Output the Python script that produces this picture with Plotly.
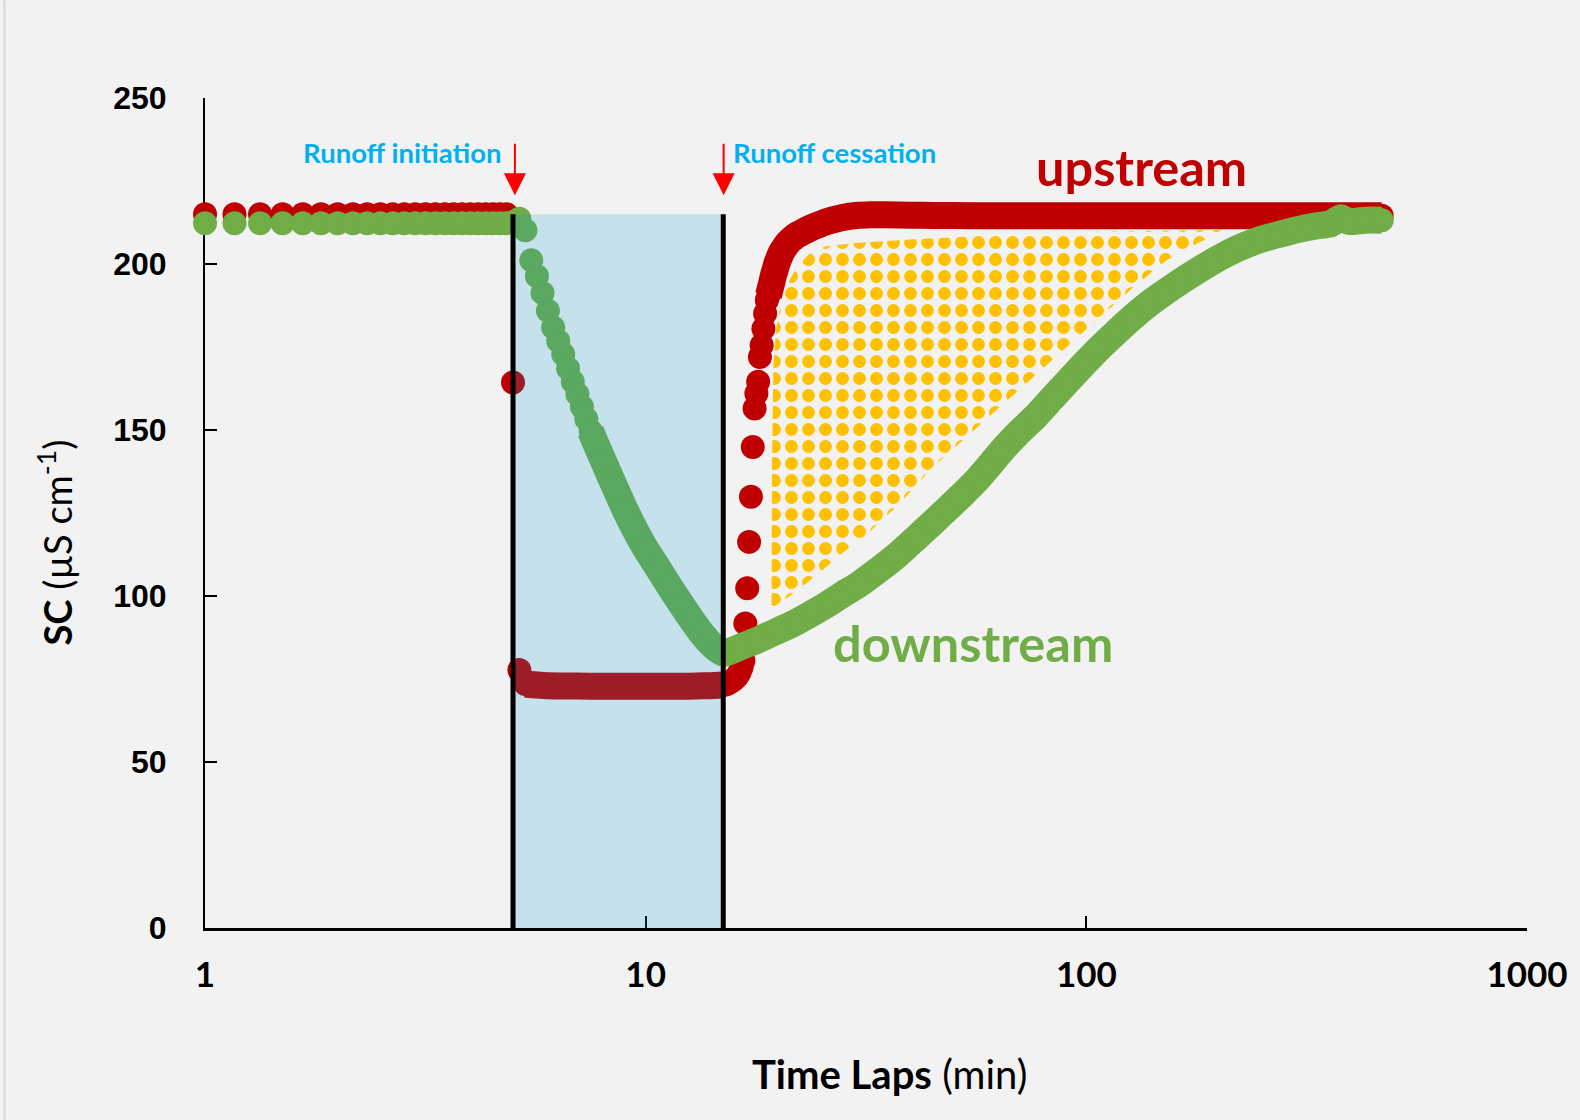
import numpy as np
import plotly.graph_objects as go

# Upstream logger: elapsed time (s) and specific conductance (µS/cm)
up_sec = [60, 70, 80, 90, 100, 110, 120, 130, 140, 150, 160, 170,
          180, 190, 200, 210, 220, 230, 240, 250, 260, 270, 280, 290,
          300, 310,
          320, 340, 360, 420, 480, 540, 600, 660, 720, 780, 840, 900,
          910, 920, 930, 940, 950, 960, 970, 980, 990, 1000,
          1010, 1020, 1030, 1040, 1050, 1060, 1070, 1080, 1090, 1100,
          1110, 1120, 1130, 1140, 1150, 1160, 1170, 1180, 1190, 1200,
          1220, 1240, 1260, 1290, 1320, 1350, 1380, 1440, 1500, 1560,
          1620, 1680, 1800, 1950, 2100, 2400, 2700, 3000, 3600, 4200,
          4800, 6000, 7200, 9000, 10800, 14400, 18000, 21600, 25200, 28080]
up_sc = [215.0, 215.0, 215.0, 215.0, 215.0, 215.0, 215.0, 215.0, 215.0, 215.0, 215.0, 215.0,
         215.0, 215.0, 215.0, 215.0, 215.0, 215.0, 215.0, 215.0, 215.0, 215.0, 215.0, 215.0,
         164.3, 77.7,
         73.5, 73.2, 73.0, 72.9, 72.8, 72.8, 72.8, 72.8, 72.8, 72.9, 73.0, 73.2,
         73.4, 73.6, 74.0, 74.3, 74.8, 75.3, 76.0, 77.0, 78.5, 80.5,
         91.7, 102.3, 116.3, 129.9, 144.9, 156.5, 161.0, 164.5, 172.0, 175.5,
         180.5, 185.1, 189.1, 190.5, 192.6, 194.5, 196.6, 198.2, 200.0, 201.3,
         203.5, 205.0, 206.3, 207.6, 208.6, 209.3, 210.0, 211.2, 212.1, 212.9,
         213.5, 214.0, 214.6, 214.8, 214.8, 214.7, 214.6, 214.6, 214.5, 214.5,
         214.5, 214.5, 214.5, 214.5, 214.5, 214.5, 214.5, 214.5, 214.5, 214.5]

# Downstream logger: elapsed time (s) and specific conductance (µS/cm)
down_sec = [60, 70, 80, 90, 100, 110, 120, 130, 140, 150, 160, 170,
            180, 190, 200, 210, 220, 230, 240, 250, 260, 270, 280, 290,
            300, 310,
            320, 330, 340, 350, 360, 370, 380, 390, 400, 410,
            420, 430, 440, 450, 460, 480, 510, 540, 570, 600,
            640, 680, 720, 760, 800, 840, 870, 900, 930, 990,
            1080, 1200, 1320, 1440, 1560, 1680, 1830, 2010, 2220, 2480,
            2700, 2900, 3120, 3400, 3600, 3840, 4200, 4620, 5040, 5460,
            5940, 6420, 7020, 7620, 8280, 9000, 9840, 10680, 11640, 12600,
            13800, 15000, 16500, 18000, 19800, 21600, 22620, 23700, 25800, 28080]
down_sc = [212.3, 212.3, 212.3, 212.3, 212.3, 212.3, 212.3, 212.3, 212.3, 212.3, 212.3, 212.3,
           212.3, 212.3, 212.3, 212.3, 212.3, 212.3, 212.3, 212.3, 212.3, 212.3, 212.3, 212.3,
           212.6, 213.6,
           210.2, 201.1, 196.3, 191.3, 185.9, 180.9, 176.8, 172.8, 168.5, 164.5,
           160.8, 157.0, 153.3, 149.7, 146.6, 141.0, 133.0, 125.7, 119.5, 114.2,
           108.4, 102.8, 97.8, 93.2, 89.1, 85.8, 84.0, 82.8, 83.3, 84.8,
           86.8, 89.6, 92.2, 95.0, 97.7, 100.5, 103.5, 107.5, 112.0, 117.8,
           122.3, 126.2, 130.2, 135.2, 139.0, 143.5, 149.0, 154.3, 159.8, 164.8,
           170.0, 174.6, 179.5, 183.8, 187.8, 191.3, 194.8, 197.8, 200.8, 203.3,
           205.7, 207.5, 209.0, 210.3, 211.4, 212.2, 213.9, 212.8, 213.2, 213.2]

# Outline of the dotted zone between the two recovery curves (min, µS/cm)
zone_min = [19.3, 19.35, 19.5, 19.8, 20.3, 21.0, 22.0, 23.5, 25.5, 30, 40, 55, 75, 110, 160, 212,
            181, 152, 128, 107.6, 90.4, 75.8, 63.8, 53.7, 45, 37.8, 32, 28, 24.5, 21.5, 19.3]
zone_sc = [96.3, 140, 170, 181, 188, 194, 199, 203, 205.3, 206.3, 207.4, 208.3, 209.2, 209.8, 210.1, 210.3,
           206.6, 201.1, 193.1, 184.1, 175.0, 166.0, 157.0, 148.0, 139, 128, 119, 113, 106.5, 100.5, 96.3]

# Runoff window (min) and its height (µS/cm)
runoff_start = 5
runoff_end = 15
runoff_top = 215

x_ticks = [1, 10, 100, 1000]
y_ticks = [0, 50, 100, 150, 200, 250]

RED = "#C00000"
GREEN = "#70AD47"
DOT = 24
BAND = 27

up_t = np.array(up_sec) / 60.0
down_t = np.array(down_sec) / 60.0


def tube(t, sc, spans):
    """Join the densely logged stretches into one continuous band."""
    sc = np.asarray(sc)
    xs, ys = [], []
    for a, b in spans:
        m = (t >= a) & (t <= b)
        xs += list(t[m]) + [None]
        ys += list(sc[m]) + [None]
    return xs, ys


fig = go.Figure()

# dotted zone
fig.add_trace(go.Scatter(
    x=zone_min, y=zone_sc, mode="lines", line=dict(width=0),
    fill="toself", fillcolor="rgba(0,0,0,0)",
    fillpattern=dict(shape=".", fgcolor="#FFC000", bgcolor="rgba(0,0,0,0)",
                     fgopacity=1, size=17, solidity=0.45),
    hoverinfo="skip"))

# upstream series
ux, uy = tube(up_t, up_sc, [(5.3, 15.01), (18.95, 480)])
fig.add_trace(go.Scatter(x=ux, y=uy, mode="lines",
                         line=dict(color=RED, width=BAND, shape="spline", smoothing=0.6),
                         hoverinfo="skip"))
fig.add_trace(go.Scatter(x=up_t, y=up_sc, mode="markers", cliponaxis=False,
                         marker=dict(size=DOT, color=RED, line=dict(width=0))))

# downstream series
dx, dy = tube(down_t, down_sc, [(7.45, 480)])
fig.add_trace(go.Scatter(x=dx, y=dy, mode="lines",
                         line=dict(color=GREEN, width=BAND, shape="spline", smoothing=0.6),
                         hoverinfo="skip"))
fig.add_trace(go.Scatter(x=down_t, y=down_sc, mode="markers", cliponaxis=False,
                         marker=dict(size=DOT, color=GREEN, line=dict(width=0))))

# runoff window shading, laid over the series
fig.add_trace(go.Scatter(
    x=[runoff_start, runoff_start, runoff_end, runoff_end, runoff_start],
    y=[0, runoff_top, runoff_top, 0, 0],
    mode="lines", line=dict(width=0), fill="toself",
    fillcolor="rgba(0,156,210,0.19)", hoverinfo="skip"))

# runoff start / end markers
fig.add_trace(go.Scatter(
    x=[runoff_start, runoff_start, None, runoff_end, runoff_end],
    y=[0, runoff_top, None, 0, runoff_top],
    mode="lines", line=dict(color="black", width=5), hoverinfo="skip"))

LABEL_FONT = "Lato"
annotations = [
    dict(x=np.log10(5.05), y=220.7, ax=0, ay=-53, text="", showarrow=True,
         arrowhead=2, arrowsize=2.2, arrowwidth=2, arrowcolor="#FF0000"),
    dict(x=np.log10(15.03), y=220.7, ax=0, ay=-53, text="", showarrow=True,
         arrowhead=2, arrowsize=2.2, arrowwidth=2, arrowcolor="#FF0000"),
    dict(x=np.log10(4.754), y=233.7, text="<b>Runoff initiation</b>", showarrow=False,
         xanchor="right", yanchor="middle",
         font=dict(family=LABEL_FONT, size=27.5, color="#00B0F0")),
    dict(x=1.1945, y=233.7, text="<b>Runoff cessation</b>", showarrow=False,
         xanchor="left", yanchor="middle",
         font=dict(family=LABEL_FONT, size=27.5, color="#00B0F0")),
    dict(x=np.log10(76.0), y=229.3, text="<b>upstream</b>", showarrow=False,
         xanchor="left", yanchor="middle",
         font=dict(family=LABEL_FONT, size=50.5, color=RED)),
    dict(x=np.log10(26.3), y=86.0, text="<b>downstream</b>", showarrow=False,
         xanchor="left", yanchor="middle",
         font=dict(family=LABEL_FONT, size=50.5, color=GREEN)),
    # axis titles
    dict(xref="paper", yref="paper", x=0.5177, y=-0.1763,
         text="<b>Time Laps</b> (min)", showarrow=False,
         xanchor="center", yanchor="middle",
         font=dict(family=LABEL_FONT, size=40, color="black")),
    dict(xref="paper", yref="paper", x=-0.1132, y=0.4649,
         text="<b>SC</b> (µS cm<sup>-1</sup>)", showarrow=False, textangle=-90,
         xanchor="center", yanchor="middle",
         font=dict(family=LABEL_FONT, size=38, color="black")),
]

fig.update_layout(
    template="none",
    width=1580, height=1120,
    margin=dict(l=205, r=53, t=98, b=192, pad=0),
    paper_bgcolor="#F2F2F2", plot_bgcolor="#F2F2F2",
    font=dict(family=LABEL_FONT, color="black"),
    showlegend=False,
    annotations=annotations,
    shapes=[dict(type="line", xref="paper", yref="paper",
                 x0=-0.1517, x1=-0.1517, y0=-0.2312, y1=1.1177,
                 line=dict(color="#D9D9D9", width=2))],
    xaxis=dict(type="log", range=[0, 3], tickvals=x_ticks,
               ticktext=[str(v) for v in x_ticks],
               ticks="inside", ticklen=12, tickwidth=1.5, tickcolor="black",
               showline=True, linecolor="black", linewidth=2.5,
               showgrid=False, zeroline=False, layer="below traces",
               tickfont=dict(family=LABEL_FONT, size=35,
                             color="black", weight="bold"),
               ticklabelstandoff=14, automargin=False),
    yaxis=dict(range=[0, 250], tickvals=y_ticks,
               ticks="inside", ticklen=12, tickwidth=1.5, tickcolor="black",
               showline=True, linecolor="black", linewidth=2,
               showgrid=False, zeroline=False, layer="below traces",
               tickfont=dict(family="Liberation Sans", size=32,
                             color="black", weight="bold"),
               ticklabelstandoff=30, automargin=False),
)

fig.write_html("out.html")
